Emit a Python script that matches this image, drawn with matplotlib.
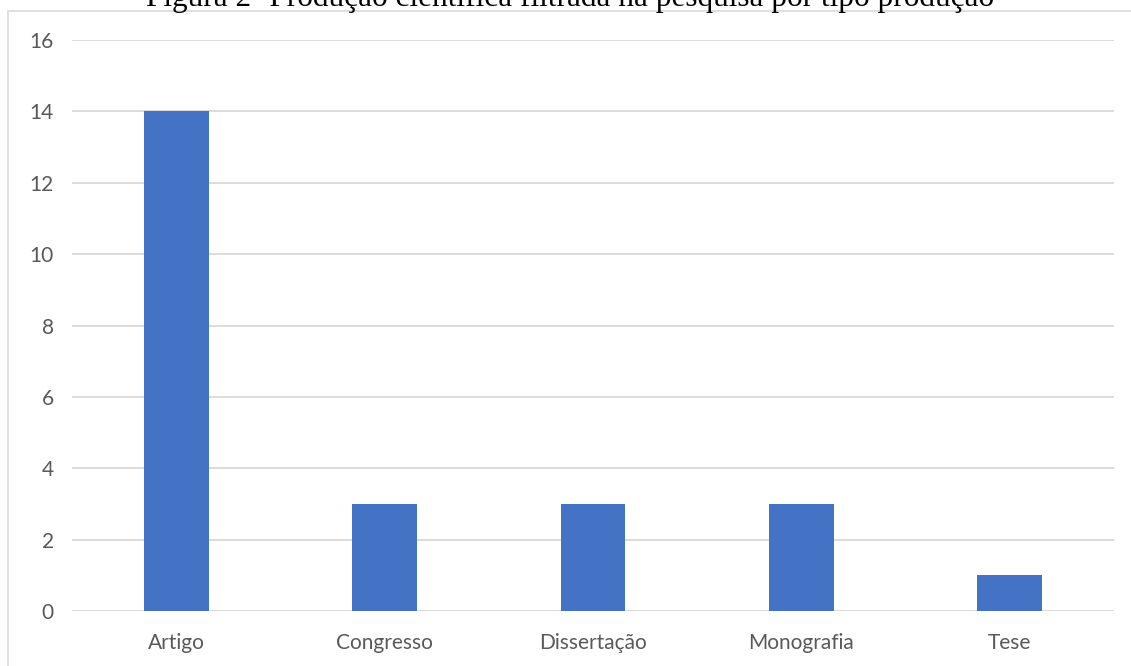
import matplotlib
matplotlib.use('Agg')
import matplotlib.pyplot as plt
import numpy as np
from matplotlib.patches import Rectangle

# === 数据 ===
categorias = ['Artigo', 'Congresso', 'Dissertação', 'Monografia', 'Tese']
quantidade = [14, 3, 3, 3, 1]
titulo = 'Figura 2- Produção científica filtrada na pesquisa por tipo produção'

W, H = 1131, 666
fig = plt.figure(figsize=(W / 100, H / 100), dpi=100)

# moldura cinza do gráfico (cortada à direita e embaixo)
fig.patches.append(Rectangle((8 / W, -0.1), 1.2, 1 - 11 / H + 0.1,
                             transform=fig.transFigure, fill=False,
                             edgecolor='#D9D9D9', linewidth=1.2, zorder=0))

ax = fig.add_axes([72 / W, 1 - 611 / H, (1114 - 72) / W, (611 - 40) / H])

x = np.arange(len(categorias))
ax.bar(x, quantidade, width=0.31, color='#4472C4', zorder=3)

ax.set_xlim(-0.5, len(categorias) - 0.5)
ax.set_ylim(0, 16)
ax.set_yticks(np.arange(0, 17, 2))
ax.set_xticks(x)
ax.set_xticklabels(categorias)

for s in ax.spines.values():
    s.set_visible(False)
ax.grid(axis='y', color='#D9D9D9', linewidth=1.3, zorder=0)
ax.tick_params(axis='both', length=0, colors='#595959', labelsize=15)
ax.tick_params(axis='y', pad=13)
ax.tick_params(axis='x', pad=16)
for lbl in ax.get_xticklabels() + ax.get_yticklabels():
    lbl.set_fontfamily('Lato')

# título, parcialmente cortado no topo
fig.text(570 / W, 1 - 6 / H, titulo, ha='center', va='baseline',
         fontsize=22.5, family='Liberation Serif', color='black')

fig.savefig('out.png', dpi=100)
